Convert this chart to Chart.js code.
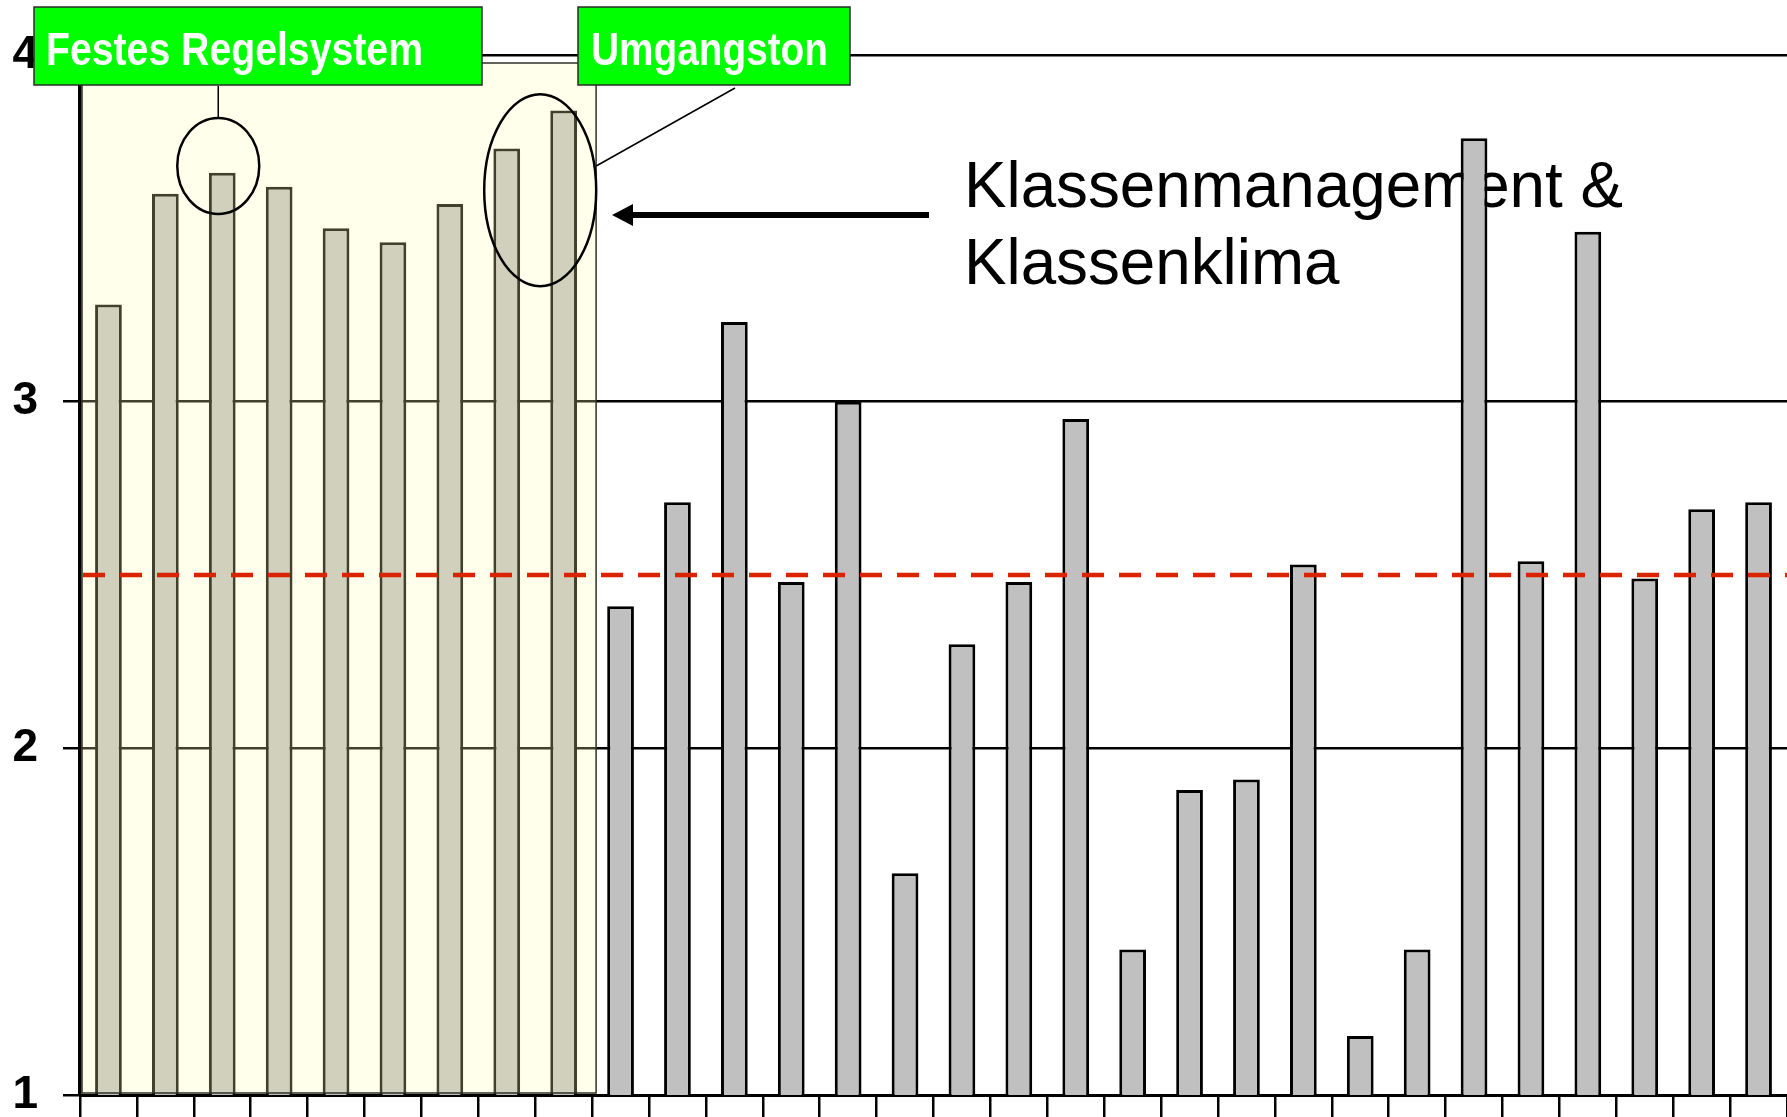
<!DOCTYPE html>
<html lang="de">
<head>
<meta charset="utf-8">
<title>Klassenmanagement &amp; Klassenklima</title>
<script src="https://cdn.jsdelivr.net/npm/chart.js@4.4.1/dist/chart.umd.min.js"></script>
<style>
  html, body { margin: 0; padding: 0; background: #fff; overflow: hidden; }
  .chart-wrapper { position: relative; width: 1787px; height: 1117px; }
</style>
</head>
<body>
<div class="chart-wrapper">
  <canvas id="ratingChart"></canvas>
</div>
<script>
// items of the questionnaire, 1..30
const items = ['1', '2', '3', '4', '5', '6', '7', '8', '9', '10',
  '11', '12', '13', '14', '15', '16', '17', '18', '19', '20',
  '21', '22', '23', '24', '25', '26', '27', '28', '29', '30'];

// mean rating per item (scale 1..4)
const ratings = [3.28, 3.60, 3.66, 3.62, 3.50, 3.46, 3.57, 3.73, 3.84,
  2.41, 2.71, 3.23, 2.48, 3.00, 1.64, 2.30, 2.48, 2.95, 1.42, 1.88,
  1.91, 2.53, 1.17, 1.42, 3.76, 2.54, 3.49, 2.49, 2.69, 2.71];

const yTicks = [1, 2, 3, 4];
const midLine = 2.5;

// first block of items (Klassenmanagement & Klassenklima)
const groupFirst = 0;
const groupLast = 8;

const groupTitle = ['Klassenmanagement &', 'Klassenklima'];
const tagRules = 'Festes Regelsystem';
const tagTone = 'Umgangston';

const FONT = '"Liberation Sans", Arial, sans-serif';
const NARROW = '"Liberation Sans Narrow", "Liberation Sans", Arial, sans-serif';

// text squeezed/stretched to a given width
const fitText = (ctx, text, x, y, width) => {
  const w = ctx.measureText(text).width;
  ctx.save();
  ctx.translate(x, y);
  ctx.scale(width / w, 1);
  ctx.fillText(text, 0, 0);
  ctx.restore();
};

const greenTag = (ctx, text, box, textX, textW) => {
  ctx.save();
  ctx.fillStyle = '#00ff00';
  ctx.fillRect(box.x, box.y, box.w, box.h);
  ctx.strokeStyle = '#2a2a2a';
  ctx.lineWidth = 1.5;
  ctx.strokeRect(box.x, box.y, box.w, box.h);
  ctx.fillStyle = '#ffffff';
  ctx.font = 'bold 47px ' + NARROW;
  ctx.textBaseline = 'alphabetic';
  fitText(ctx, text, textX, box.y + 58, textW);
  ctx.restore();
};

const ellipse = (ctx, cx, cy, rx, ry) => {
  ctx.beginPath();
  ctx.ellipse(cx, cy, rx, ry, 0, 0, Math.PI * 2);
  ctx.stroke();
};

const annotations = {
  id: 'annotations',
  beforeDatasetsDraw(chart) {
    const ctx = chart.ctx;
    ctx.save();
    ctx.fillStyle = '#000';
    ctx.font = '64px ' + FONT;
    ctx.textBaseline = 'alphabetic';
    const w1 = ctx.measureText(groupTitle[0]).width;
    const k = 659 / w1;
    fitText(ctx, groupTitle[0], 964, 207, w1 * k);
    fitText(ctx, groupTitle[1], 964, 284, ctx.measureText(groupTitle[1]).width * k);

    // arrow pointing at the block
    ctx.strokeStyle = '#000';
    ctx.lineWidth = 6;
    ctx.beginPath();
    ctx.moveTo(929, 215);
    ctx.lineTo(628, 215);
    ctx.stroke();
    ctx.beginPath();
    ctx.moveTo(612, 215);
    ctx.lineTo(633, 204);
    ctx.lineTo(633, 226);
    ctx.closePath();
    ctx.fill();
    ctx.restore();
  },
  afterDatasetsDraw(chart) {
    const ctx = chart.ctx;
    const x = chart.scales.x;
    const y = chart.scales.y;
    const area = chart.chartArea;
    const half = (x.getPixelForValue(1) - x.getPixelForValue(0)) / 2;

    // tinted block over the first items
    const bx0 = x.getPixelForValue(groupFirst) - half + 2;
    const bx1 = x.getPixelForValue(groupLast) + half + 4;
    const by0 = area.top + 8;
    const by1 = area.bottom - 2;
    ctx.save();
    ctx.fillStyle = 'rgba(255, 255, 176, 0.25)';
    ctx.fillRect(bx0, by0, bx1 - bx0, by1 - by0);
    ctx.strokeStyle = '#303024';
    ctx.lineWidth = 1.5;
    ctx.strokeRect(bx0, by0, bx1 - bx0, by1 - by0);

    // dashed reference line
    const ym = y.getPixelForValue(midLine);
    ctx.strokeStyle = '#dc2300';
    ctx.lineWidth = 4.5;
    ctx.setLineDash([22, 15]);
    ctx.beginPath();
    ctx.moveTo(area.left + 3, ym);
    ctx.lineTo(area.right, ym);
    ctx.stroke();
    ctx.setLineDash([]);

    // ellipses around the highlighted bars
    ctx.strokeStyle = '#000';
    ctx.lineWidth = 2.5;
    const e1x = x.getPixelForValue(2) - 4;
    const e1y = y.getPixelForValue(3.68);
    ellipse(ctx, e1x, e1y, 41, 48);
    const e2x = (x.getPixelForValue(7) + x.getPixelForValue(8)) / 2 + 5;
    const e2y = y.getPixelForValue(3.61);
    ellipse(ctx, e2x, e2y, 56, 96);

    // connectors to the tags
    ctx.lineWidth = 1.5;
    ctx.beginPath();
    ctx.moveTo(e1x, 86);
    ctx.lineTo(e1x, e1y - 48);
    ctx.moveTo(735, 88);
    ctx.lineTo(e2x + 56, 166);
    ctx.stroke();
    ctx.restore();

    greenTag(ctx, tagRules, { x: 34, y: 7, w: 448, h: 78 }, 46, 377);
    greenTag(ctx, tagTone, { x: 578, y: 7, w: 272, h: 78 }, 591, 237);
  }
};

const ctx = document.getElementById('ratingChart').getContext('2d');

new Chart(ctx, {
  type: 'bar',
  data: {
    labels: items,
    datasets: [{
      data: ratings,
      backgroundColor: '#c0c0c0',
      borderColor: '#000000',
      borderWidth: 3,
      borderSkipped: false,
      barPercentage: 0.47,
      categoryPercentage: 1
    }]
  },
  options: {
    responsive: true,
    maintainAspectRatio: false,
    animation: false,
    layout: { autoPadding: false, padding: { top: 55, left: 0, right: 0, bottom: 0 } },
    plugins: {
      legend: { display: false },
      tooltip: { enabled: false }
    },
    scales: {
      x: {
        grid: {
          display: true,
          drawOnChartArea: false,
          drawTicks: true,
          tickLength: 25,
          color: '#000',
          lineWidth: 2.5
        },
        border: { display: true, color: '#000', width: 3 },
        ticks: { display: false },
        afterFit: (scale) => {
          scale.height = 22;
          scale.paddingLeft = 0;
          scale.paddingRight = 0;
        }
      },
      y: {
        min: yTicks[0],
        max: yTicks[yTicks.length - 1],
        afterBuildTicks: (scale) => {
          scale.ticks = yTicks.map(v => ({ value: v }));
        },
        grid: {
          color: '#000',
          lineWidth: 2.5,
          drawTicks: true,
          tickLength: 17
        },
        border: { display: true, color: '#000', width: 3.5 },
        ticks: {
          color: '#000',
          padding: 25,
          font: { family: FONT, size: 46, weight: 'bold' }
        },
        afterFit: (scale) => {
          scale.width = 80;
          scale.paddingTop = 0;
          scale.paddingBottom = 0;
        }
      }
    }
  },
  plugins: [annotations]
});
</script>
</body>
</html>
